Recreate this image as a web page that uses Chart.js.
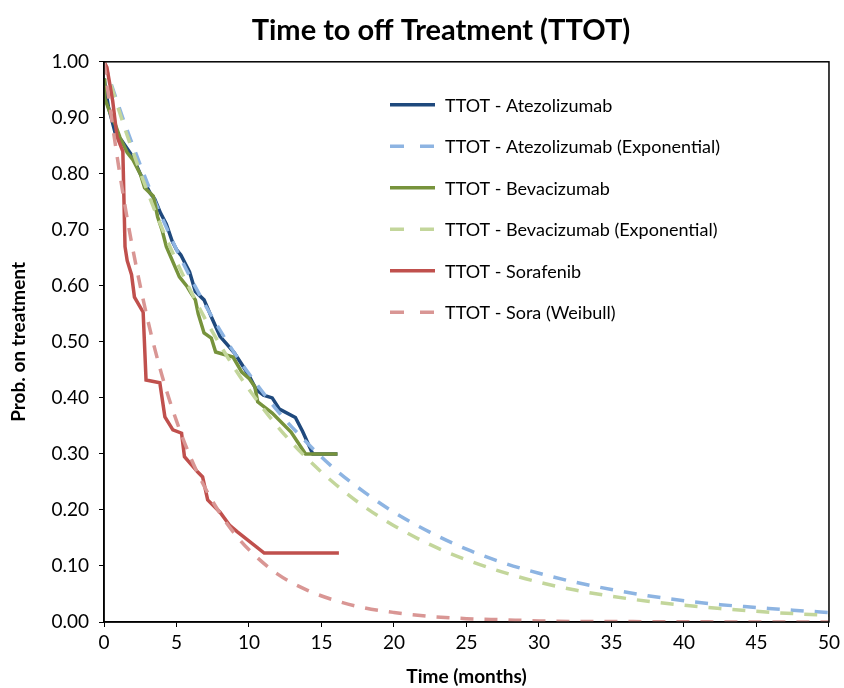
<!DOCTYPE html>
<html>
<head>
<meta charset="utf-8">
<script src="https://cdn.jsdelivr.net/npm/chart.js@4"></script>
<style>
  html, body { margin: 0; padding: 0; background: #fff; }
  #wrap { width: 844px; height: 688px; }
</style>
</head>
<body>
<div id="wrap"><canvas id="ttotChart"></canvas></div>
<script>
// Kaplan-Meier curves
const atezoTime = [0, 0.3, 0.8, 1.2, 2.0, 2.5, 3.2, 3.5, 3.9, 4.3, 4.7, 5.0, 5.3, 5.9, 6.3, 6.9, 7.4, 8.0, 8.5, 9.0, 9.5, 10.0, 10.5, 11.0, 11.6, 12.1, 13.2, 13.7, 14.4, 16.1];
const atezoProb = [0.97, 0.92, 0.87, 0.86, 0.83, 0.80, 0.765, 0.755, 0.73, 0.71, 0.68, 0.665, 0.655, 0.625, 0.59, 0.575, 0.545, 0.51, 0.495, 0.48, 0.46, 0.44, 0.415, 0.405, 0.40, 0.38, 0.365, 0.34, 0.30, 0.30];

const bevaTime = [0, 0.05, 0.4, 0.75, 1.1, 1.6, 2.0, 2.5, 2.8, 3.4, 3.7, 4.0, 4.3, 4.9, 5.2, 5.7, 6.0, 6.3, 6.5, 6.9, 7.4, 7.7, 8.9, 9.5, 10.0, 10.4, 10.6, 11.6, 12.9, 13.9, 16.1];
const bevaProb = [0.97, 0.935, 0.91, 0.89, 0.865, 0.838, 0.825, 0.80, 0.775, 0.76, 0.723, 0.70, 0.67, 0.634, 0.616, 0.60, 0.587, 0.575, 0.55, 0.516, 0.507, 0.482, 0.473, 0.446, 0.435, 0.42, 0.393, 0.373, 0.339, 0.30, 0.30];

const soraTime = [0, 0.2, 0.6, 0.9, 1.3, 1.45, 1.6, 1.9, 2.1, 2.7, 2.9, 3.85, 4.2, 4.75, 5.35, 5.55, 6.45, 6.8, 7.15, 8.0, 8.65, 9.2, 11.05, 16.2];
const soraProb = [1.0, 0.99, 0.93, 0.866, 0.84, 0.67, 0.645, 0.62, 0.58, 0.553, 0.432, 0.427, 0.366, 0.343, 0.337, 0.295, 0.268, 0.259, 0.218, 0.196, 0.173, 0.161, 0.123, 0.123];

// fitted curves
const fitTime = [0, 0.5, 1, 1.5, 2, 3, 4, 5, 6, 7, 8, 9, 10, 12, 14, 16, 18, 20, 22.5, 25, 27.5, 30, 32.5, 35, 37.5, 40, 42.5, 45, 47.5, 50];
const atezoExp = [1.0, 0.96, 0.922, 0.885, 0.85, 0.783, 0.722, 0.665, 0.613, 0.565, 0.521, 0.48, 0.443, 0.376, 0.32, 0.271, 0.231, 0.196, 0.16, 0.13, 0.106, 0.087, 0.071, 0.058, 0.047, 0.038, 0.031, 0.026, 0.021, 0.017];
const bevaExp = [1.0, 0.957, 0.916, 0.876, 0.839, 0.768, 0.703, 0.644, 0.59, 0.54, 0.495, 0.453, 0.415, 0.348, 0.292, 0.245, 0.205, 0.172, 0.138, 0.111, 0.089, 0.071, 0.057, 0.046, 0.037, 0.03, 0.024, 0.019, 0.015, 0.012];
const soraWeibull = [1.0, 0.903, 0.815, 0.735, 0.664, 0.541, 0.44, 0.359, 0.292, 0.238, 0.194, 0.158, 0.129, 0.085, 0.057, 0.038, 0.025, 0.017, 0.01, 0.006, 0.004, 0.002, 0.001, 0.001, 0.0005, 0.0003, 0.0002, 0.0001, 0.0001, 0];

const xTicks = [0, 5, 10, 15, 20, 25, 30, 35, 40, 45, 50];

function pts(xs, ys) {
  return xs.map((x, i) => ({ x: x, y: ys[i] }));
}

const FONT = "Lato, 'Open Sans', sans-serif";
const DASH = [13, 11];

// plot box + in-plot legend
const boxAndLegend = {
  id: 'boxAndLegend',
  afterDatasetsDraw(chart) {
    const { ctx, chartArea: a } = chart;
    ctx.save();
    ctx.strokeStyle = '#000';
    ctx.lineWidth = 1.5;
    ctx.strokeRect(a.left, a.top, a.right - a.left, a.bottom - a.top);

    ctx.font = "18px " + FONT;
    ctx.textBaseline = 'middle';
    ctx.fillStyle = '#000';
    chart.data.datasets.forEach((ds, i) => {
      const y = a.top + 43 + i * 41.5;
      const x0 = a.left + 286;
      ctx.strokeStyle = ds.borderColor;
      ctx.lineWidth = 3.5;
      ctx.setLineDash(ds.borderDash ? [14, 16] : []);
      ctx.beginPath();
      ctx.moveTo(x0, y);
      ctx.lineTo(x0 + 45, y);
      ctx.stroke();
      ctx.setLineDash([]);
      ctx.fillText(ds.label, x0 + 55, y + 1);
    });
    ctx.restore();
  },
  afterLayout(chart) {
    // title sits a bit right of the canvas centre
    if (chart.titleBlock) chart.titleBlock.left = 50;
  }
};

new Chart(document.getElementById('ttotChart'), {
  type: 'line',
  data: {
    datasets: [
      { label: 'TTOT - Atezolizumab', data: pts(atezoTime, atezoProb), borderColor: '#1F497D', order: 6 },
      { label: 'TTOT - Atezolizumab (Exponential)', data: pts(fitTime, atezoExp), borderColor: '#8DB4E2', borderDash: DASH, cubicInterpolationMode: 'monotone', order: 5 },
      { label: 'TTOT - Bevacizumab', data: pts(bevaTime, bevaProb), borderColor: '#77933C', order: 4 },
      { label: 'TTOT - Bevacizumab (Exponential)', data: pts(fitTime, bevaExp), borderColor: '#C3D69B', borderDash: DASH, cubicInterpolationMode: 'monotone', order: 3 },
      { label: 'TTOT - Sorafenib', data: pts(soraTime, soraProb), borderColor: '#C0504D', order: 2 },
      { label: 'TTOT - Sora (Weibull)', data: pts(fitTime, soraWeibull), borderColor: '#D99694', borderDash: DASH, cubicInterpolationMode: 'monotone', order: 1 }
    ]
  },
  options: {
    responsive: true,
    maintainAspectRatio: false,
    animation: false,
    parsing: false,
    elements: {
      line: { borderWidth: 3.5, fill: false, tension: 0 },
      point: { radius: 0 }
    },
    layout: { padding: { left: 0, right: 12, top: 0, bottom: 0 } },
    plugins: {
      legend: { display: false },
      tooltip: { enabled: false },
      title: {
        display: true,
        text: 'Time to off Treatment (TTOT)',
        color: '#000',
        font: { family: FONT, size: 29, weight: 'bold' },
        lineHeight: 1.2,
        padding: { top: 13, bottom: 14 }
      }
    },
    scales: {
      x: {
        type: 'linear',
        min: 0,
        max: 50,
        afterBuildTicks: (s) => { s.ticks = xTicks.map(v => ({ value: v })); },
        afterFit: (s) => { s.height = 66; },
        grid: { drawOnChartArea: false, drawTicks: true, tickLength: 5, color: '#000' },
        border: { color: '#000', width: 1.5 },
        ticks: { color: '#000', font: { family: FONT, size: 19 }, padding: 4, maxRotation: 0 },
        title: { display: true, text: 'Time (months)', color: '#000', font: { family: FONT, size: 19, weight: 'bold' }, padding: { top: 2, bottom: 0 } }
      },
      y: {
        min: 0,
        max: 1,
        afterFit: (s) => { s.width = 104; },
        grid: { drawOnChartArea: false, drawTicks: true, tickLength: 5, color: '#000' },
        border: { color: '#000', width: 1.5 },
        ticks: { stepSize: 0.1, color: '#000', font: { family: FONT, size: 19 }, padding: 10, callback: (v) => v.toFixed(2) },
        title: { display: true, text: 'Prob. on treatment', color: '#000', font: { family: FONT, size: 19, weight: 'bold' }, padding: { top: 7, bottom: 4 } }
      }
    }
  },
  plugins: [boxAndLegend]
});
</script>
</body>
</html>
